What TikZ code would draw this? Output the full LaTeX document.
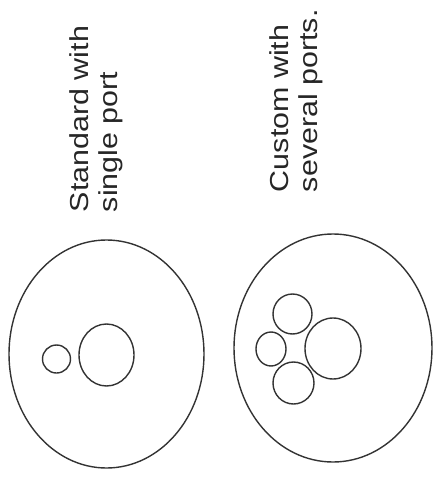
\documentclass[tikz,border=0pt]{standalone}
\usepackage{fontspec}
\setmainfont{Liberation Sans}
\begin{document}
\begin{tikzpicture}[x=1pt,y=-1pt,
  ring/.style={draw=black!80,line width=1.4pt},
  lbl/.style={anchor=base west,rotate=90,inner sep=0pt,outer sep=0pt,text=black!85,
    font=\fontsize{26}{29}\selectfont}]
\useasboundingbox (0,0) rectangle (441,477);
% labels
\node[lbl] (l1a) at (88,212) {\scalebox{1.17}[1]{Standard with}};
\node[lbl] (l1b) at (117,212) {\scalebox{1.17}[1]{single port}};
\node[lbl] (l2a) at (288,192) {\scalebox{1.17}[1]{Custom with}};
\node[lbl] (l2b) at (317,192) {\scalebox{1.17}[1]{several ports.}};
% left fibre
\draw[ring] (106.5,354) ellipse [x radius=97.5pt, y radius=114pt];
\draw[ring] (56.5,359) ellipse [x radius=14pt, y radius=14pt];
\draw[ring] (106.5,355) ellipse [x radius=27.5pt, y radius=31pt];
% right fibre
\draw[ring] (333,348) ellipse [x radius=99pt, y radius=114pt];
\draw[ring] (292.5,314) ellipse [x radius=19.5pt, y radius=20pt];
\draw[ring] (271,349) ellipse [x radius=15pt, y radius=17pt];
\draw[ring] (293.5,383) ellipse [x radius=20.5pt, y radius=21pt];
\draw[ring] (333,348.5) ellipse [x radius=28pt, y radius=30.5pt];
\end{tikzpicture}
\end{document}
